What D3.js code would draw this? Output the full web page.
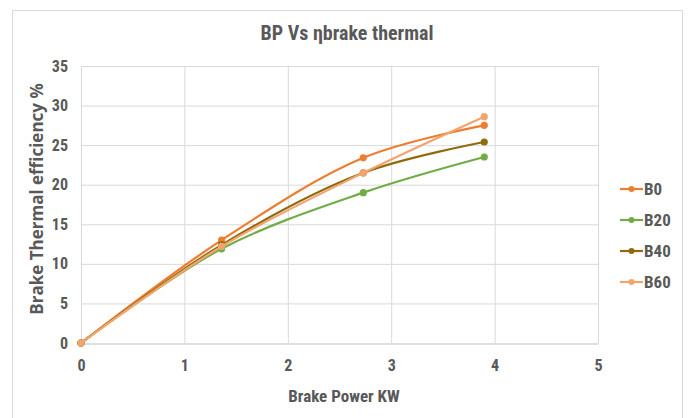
<!DOCTYPE html>
<html>
<head>
<meta charset="utf-8">
<script src="https://cdn.jsdelivr.net/npm/d3@7"></script>
<style>
  body { margin: 0; background: #fff; }
  text { font-family: "Liberation Sans Narrow", "Arial Narrow", "Roboto Condensed", "Open Sans", sans-serif; fill: #595959; font-weight: bold; }
</style>
</head>
<body>
<svg id="chart" width="688" height="418"></svg>
<script>
// Data
const brakePower = [0, 1.36, 2.73, 3.9];
const seriesNames = ["B0", "B20", "B40", "B60"];
const b0 = [0, 13.0, 23.4, 27.5];
const b20 = [0, 11.9, 19.0, 23.5];
const b40 = [0, 12.4, 21.5, 25.4];
const b60 = [0, 12.2, 21.5, 28.6];
const seriesValues = [b0, b20, b40, b60];
const colors = ["#ED7D31", "#70AD47", "#8F6B0E", "#F2A46E"];
const xTicks = [0, 1, 2, 3, 4, 5];
const yTicks = [0, 5, 10, 15, 20, 25, 30, 35];

const svg = d3.select("#chart");

// chart frame
svg.append("rect")
    .attr("x", 12.5).attr("y", 10.5)
    .attr("width", 670).attr("height", 420)
    .attr("fill", "none")
    .attr("stroke", "#d9d9d9");

const plotLeft = 81, plotRight = 598, plotTop = 66, plotBottom = 343;

let scaleX = d3.scaleLinear().domain([0, 5]).range([plotLeft, plotRight]);
let scaleY = d3.scaleLinear().domain([0, 35]).range([plotBottom, plotTop]);

//Gridlines
svg.append("g").selectAll("line")
    .data(yTicks.filter(d => d > 0))
    .enter().append("line")
    .attr("x1", plotLeft).attr("x2", plotRight)
    .attr("y1", d => scaleY(d) + 0.5).attr("y2", d => scaleY(d) + 0.5)
    .attr("stroke", "#d9d9d9");

svg.append("g").selectAll("line")
    .data(xTicks)
    .enter().append("line")
    .attr("x1", d => scaleX(d) + 0.5).attr("x2", d => scaleX(d) + 0.5)
    .attr("y1", plotTop).attr("y2", plotBottom)
    .attr("stroke", "#d9d9d9");

//Axes
const xAxis = svg.append("g")
    .attr("transform", "translate(0," + (plotBottom + 0.5) + ")")
    .call(d3.axisBottom(scaleX).tickValues(xTicks).tickSize(0).tickPadding(16).tickFormat(d3.format("d")));
xAxis.select(".domain").attr("stroke", "#bfbfbf");
xAxis.selectAll("text").style("font-size", "16px").attr("fill", "#595959");

const yAxis = svg.append("g")
    .attr("transform", "translate(" + plotLeft + ",0)")
    .call(d3.axisLeft(scaleY).tickValues(yTicks).tickSize(0).tickPadding(13));
yAxis.select(".domain").remove();
yAxis.selectAll("text").style("font-size", "16px").attr("fill", "#595959");

//Title
svg.append("text")
    .attr("x", 347).attr("y", 40)
    .attr("text-anchor", "middle")
    .style("font-size", "20px")
    .text("BP Vs ηbrake thermal");

//Axis titles
svg.append("text")
    .attr("x", 344).attr("y", 402)
    .attr("text-anchor", "middle")
    .style("font-size", "17px")
    .text("Brake Power KW");

svg.append("text")
    .attr("text-anchor", "middle")
    .attr("transform", "translate(43,199)rotate(-90)")
    .style("font-size", "17px")
    .style("font-family", "'Open Sans', sans-serif")
    .text("Brake Thermal efficiency %");

//Lines
const line = d3.line()
    .x((d, i) => scaleX(brakePower[i]))
    .y(d => scaleY(d))
    .curve(d3.curveCatmullRom.alpha(0.5));

seriesValues.forEach((vals, k) => {
    svg.append("path")
        .datum(vals)
        .attr("d", line)
        .attr("fill", "none")
        .attr("stroke", colors[k])
        .attr("stroke-width", 2.2);
    svg.append("g").selectAll("circle")
        .data(vals)
        .enter().append("circle")
        .attr("cx", (d, i) => scaleX(brakePower[i]))
        .attr("cy", d => scaleY(d))
        .attr("r", 3.6)
        .attr("fill", colors[k]);
});

//Legend
const legend = svg.append("g").selectAll("g")
    .data(seriesNames)
    .enter().append("g")
    .attr("transform", (d, i) => "translate(620," + (189 + i * 31) + ")");
legend.append("line")
    .attr("x1", 0).attr("x2", 23)
    .attr("stroke", (d, i) => colors[i])
    .attr("stroke-width", 2.2);
legend.append("circle")
    .attr("cx", 11.5).attr("r", 3)
    .attr("fill", (d, i) => colors[i]);
legend.append("text")
    .attr("x", 24).attr("y", 6)
    .style("font-size", "17px")
    .text(d => d);
</script>
</body>
</html>
